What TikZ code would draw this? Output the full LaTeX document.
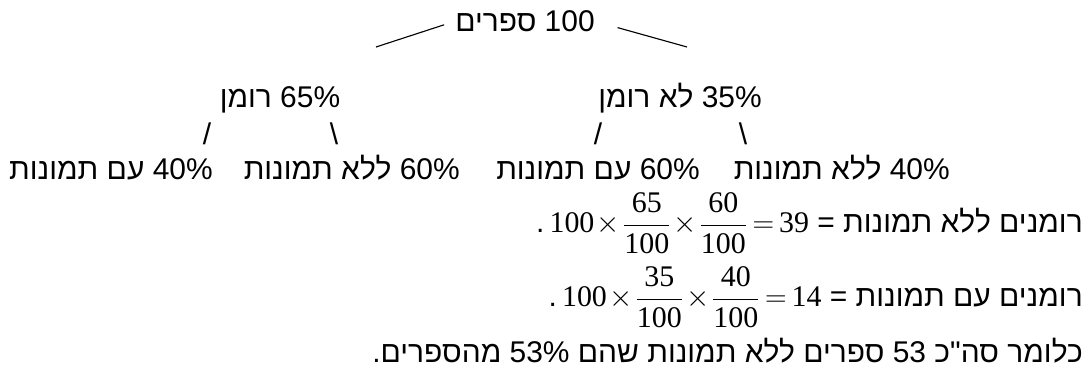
\documentclass[tikz,border=0pt]{standalone}
\usepackage{fix-cm}
\usepackage{amsmath}
\usepackage{fontspec}
\setmainfont{Liberation Serif}
\newfontfamily\hebfont[Script=Hebrew]{Liberation Sans}
\newfontfamily\mathdigits{Liberation Serif}
\newcommand{\md}[1]{\text{\mathdigits #1}}
\TeXXeTstate=1
\begin{document}
\begin{tikzpicture}[scale=1.0, font=\hebfont\fontsize{21.3}{26}\selectfont,
  lbl/.style={inner sep=1pt, anchor=base},
  rlbl/.style={inner sep=0pt, anchor=base east},
  branch/.style={line width=0.8pt}]
  \useasboundingbox (0,0) rectangle (27.275,9.35);
  % Root: all the books
  \node[lbl] (books) at (13.125,8.55) {\beginR 100 ספרים\endR};
  \coordinate (lfoot) at (9.4,8.175);
  \coordinate (rfoot) at (17.175,8.175);
  \draw[branch, shorten <=0.25cm] (books.west) -- (lfoot);
  \draw[branch, shorten <=0.55cm] (books.east) -- (rfoot);
  % First level: novels / not novels
  \node[lbl] (novel) at (7.0,6.65) {\beginR 65\% רומן\endR};
  \node[lbl] (nonnovel) at (17.0,6.65) {\beginR 35\% לא רומן\endR};
  % Slashes under each branch
  \node[lbl] (novA) at (5.175,5.725) {/};
  \node[lbl] (novB) at (8.35,5.725) {\textbackslash};
  \node[lbl] (nonA) at (14.95,5.725) {/};
  \node[lbl] (nonB) at (18.575,5.725) {\textbackslash};
  % Second level: with / without pictures
  \node[rlbl] (novpic) at (5.325,4.85) {\beginR 40\% עם תמונות\endR};
  \node[rlbl] (novnopic) at (11.5,4.85) {\beginR 60\% ללא תמונות\endR};
  \node[rlbl] (nonpic) at (17.5,4.85) {\beginR 60\% עם תמונות\endR};
  \node[rlbl] (nonnopic) at (23.75,4.85) {\beginR 40\% ללא תמונות\endR};
  % Computation
  \node[rlbl] (calcA) at (27.075,3.525)
    {\medmuskip=1.5mu\thickmuskip=3mu\beginR רומנים ללא תמונות = \beginL$\md{100}\times\dfrac{\md{65}}{\md{100}}\times\dfrac{\md{60}}{\md{100}}=\md{39}$\endL\,.\endR};
  \node[rlbl] (calcB) at (27.075,1.675)
    {\medmuskip=1.5mu\thickmuskip=3mu\beginR רומנים עם תמונות = \beginL$\md{100}\times\dfrac{\md{35}}{\md{100}}\times\dfrac{\md{40}}{\md{100}}=\md{14}$\endL\,.\endR};
  \node[rlbl] (total) at (27.075,0.3)
    {\beginR כלומר סה"כ 53 ספרים ללא תמונות שהם \beginL 53\%\endL{} מהספרים.\endR};
\end{tikzpicture}
\end{document}
